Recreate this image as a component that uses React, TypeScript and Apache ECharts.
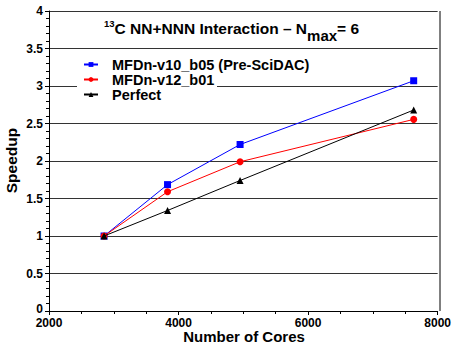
import React, { useEffect, useRef } from "react";
import * as echarts from "echarts";

const cores = [2850, 3830, 4950, 7630];
const v10 = [1, 1.685, 2.22, 3.07];
const v12 = [1, 1.59, 1.99, 2.555];
const perfect = [1, 1.34, 1.74, 2.68];
const seriesNames = ["MFDn-v10_b05 (Pre-SciDAC)", "MFDn-v12_b01", "Perfect"];
const yTicks = [0, 0.5, 1, 1.5, 2, 2.5, 3, 3.5, 4];
const xTicks = [2000, 4000, 6000, 8000];

const FONT = "Liberation Sans";

export default function App() {
  const ref = useRef<HTMLDivElement>(null);
  useEffect(() => {
    if (!ref.current) return;
    const chart = echarts.init(ref.current, null, { renderer: "svg" });
    const mk = (vals: number[]) => cores.map((c, i) => [c, vals[i]]);
    const lbl = { fontFamily: FONT, fontWeight: "bold", fontSize: 12, color: "#000" };
    chart.setOption({
      animation: false,
      backgroundColor: "#fff",
      textStyle: { fontFamily: FONT },
      grid: { left: 49, right: 14, top: 11, bottom: 35 },
      title: {
        text: "{a|13}{b|C NN+NNN Interaction – N}{s|max}{b|= 6}",
        left: 104,
        top: 13,
        padding: 0,
        textStyle: {
          rich: {
            a: { fontFamily: FONT, fontWeight: "bold", fontSize: 9.5, color: "#000", padding: [0, 0, 10, 0] },
            b: { fontFamily: FONT, fontWeight: "bold", fontSize: 15.5, color: "#000" },
            s: { fontFamily: FONT, fontWeight: "bold", fontSize: 15, color: "#000", padding: [15, 0, 0, 0] },
          },
        },
      },
      legend: {
        data: seriesNames,
        orient: "vertical",
        left: 83,
        top: 57,
        padding: 0,
        itemGap: 0,
        itemWidth: 14,
        itemHeight: 6,
        textStyle: { fontFamily: FONT, fontWeight: "bold", fontSize: 14.5, lineHeight: 14.5, color: "#000", padding: [0, 0, 0, 9] },
      },
      graphic: [
        { type: "rect", z: 1, shape: { x: 77, y: 80, width: 140, height: 11 }, style: { fill: "#fff" } },
        {
          type: "text",
          x: 11.5,
          y: 160.5,
          rotation: Math.PI / 2,
          style: { text: "Speedup", font: `bold 15.5px ${FONT}`, fill: "#000", textAlign: "center", textVerticalAlign: "middle" },
        },
        {
          type: "text",
          x: 244,
          y: 336,
          style: { text: "Number of Cores", font: `bold 15px ${FONT}`, lineHeight: 11, fill: "#000", textAlign: "center", textVerticalAlign: "middle" },
        },
        { type: "line", z: 3, shape: { x1: 440, y1: 11, x2: 440, y2: 311 }, style: { stroke: "#000", lineWidth: 1 } },
      ],
      xAxis: {
        type: "value",
        min: xTicks[0],
        max: xTicks[xTicks.length - 1],
        interval: xTicks[1] - xTicks[0],
        axisLine: { show: true, onZero: false, lineStyle: { color: "#000", width: 1 } },
        axisTick: { show: true, length: 4, lineStyle: { color: "#000" } },
        minorTick: { show: true, splitNumber: 4, length: 3, lineStyle: { color: "#000" } },
        splitLine: { show: false },
        axisLabel: { ...lbl, lineHeight: 10, margin: 7, formatter: (v: number) => String(v) },
      },
      yAxis: {
        type: "value",
        min: yTicks[0],
        max: yTicks[yTicks.length - 1],
        interval: yTicks[1] - yTicks[0],
        axisLine: { show: true, lineStyle: { color: "#000", width: 1 } },
        axisTick: { show: true, length: 4, lineStyle: { color: "#000" } },
        minorTick: { show: true, splitNumber: 5, length: 3, lineStyle: { color: "#000" } },
        splitLine: { show: true, lineStyle: { color: "#333", width: 1 } },
        axisLabel: {
          ...lbl,
          lineHeight: 10,
          margin: 6,
          formatter: (v: number) => (v === 0 ? "{z|0}" : String(v)),
          rich: { z: { ...lbl, lineHeight: 10, padding: [0, 0, 5, 0] } },
        },
      },
      series: [
        {
          name: seriesNames[0],
          type: "line",
          data: mk(v10),
          symbol: "rect",
          symbolSize: 7,
          color: "#0000ff",
          lineStyle: { width: 1 },
          z: 4,
        },
        {
          name: seriesNames[1],
          type: "line",
          data: mk(v12),
          symbol: "circle",
          symbolSize: 7,
          color: "#ff0000",
          lineStyle: { width: 1 },
          z: 5,
        },
        {
          name: seriesNames[2],
          type: "line",
          data: mk(perfect),
          symbol: "triangle",
          symbolSize: 7,
          color: "#000000",
          lineStyle: { width: 1 },
          z: 6,
        },
      ],
    });
    return () => chart.dispose();
  }, []);
  return (
    <div
      ref={ref}
      style={{ position: "fixed", left: 0, top: 0, width: 454, height: 346 }}
    />
  );
}
